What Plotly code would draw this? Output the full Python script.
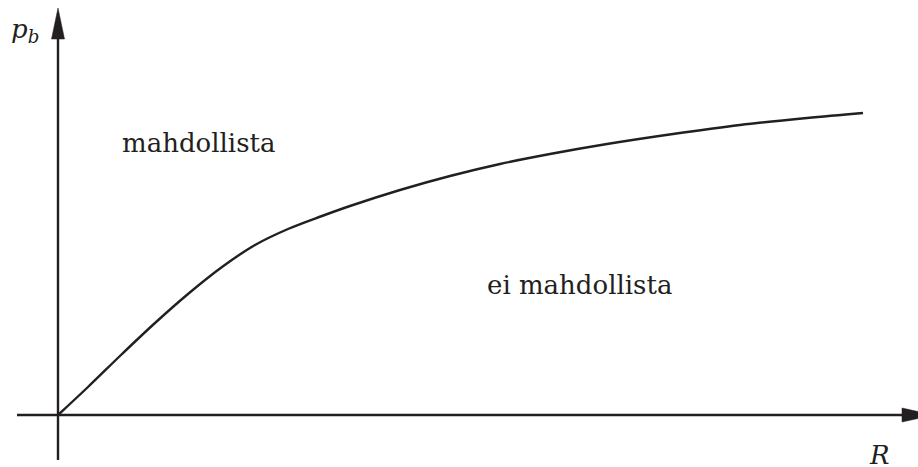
import plotly.graph_objects as go

# Curve data (R, p_b)
R_vals = [0, 30, 64, 97, 130, 164, 197, 230, 264, 292, 342, 392, 442, 492, 549, 615, 682, 749, 805]
pb_vals = [0, 28, 61, 92, 121, 148, 170, 186, 199, 209, 225, 239, 251, 261, 271, 281, 290, 297, 302]

region_labels = ["mahdollista", "ei mahdollista"]
region_pos_R = [140, 521]
region_pos_pb = [272, 130]

x_label = "<i>R</i>"
y_label = "<i>p</i><sub><i>b</i></sub>"

X_MIN, X_MAX = -58, 860
Y_MIN, Y_MAX = -52, 415

FONT = "DejaVu Serif, Liberation Serif, serif"
INK = "#231f20"

fig = go.Figure()

fig.add_trace(go.Scatter(
    x=R_vals, y=pb_vals, mode="lines",
    line=dict(color=INK, width=2.4, shape="spline", smoothing=1.0),
    hoverinfo="skip", showlegend=False,
))

shapes = []
# x axis line + arrowhead
shapes.append(dict(type="line", xref="x", yref="y", x0=-41, y0=0, x1=846, y1=0,
                   line=dict(color=INK, width=2.4)))
shapes.append(dict(type="path", xref="x", yref="y",
                   path="M 844,7 L 876,0 L 844,-7 Z",
                   fillcolor=INK, line=dict(color=INK, width=0.5)))
# y axis line + arrowhead
shapes.append(dict(type="line", xref="x", yref="y", x0=0, y0=-45, x1=0, y1=380,
                   line=dict(color=INK, width=2.4)))
shapes.append(dict(type="path", xref="x", yref="y",
                   path="M -6.5,376 L 0,407 L 6.5,376 Z",
                   fillcolor=INK, line=dict(color=INK, width=0.5)))

annotations = []
for t, xr, yr in zip(region_labels, region_pos_R, region_pos_pb):
    annotations.append(dict(x=xr, y=yr, xref="x", yref="y", text=t, showarrow=False,
                            font=dict(family=FONT, size=26, color=INK),
                            xanchor="center", yanchor="middle"))
annotations.append(dict(x=821, y=-40, xref="x", yref="y", text=x_label, showarrow=False,
                        font=dict(family=FONT, size=26, color=INK),
                        xanchor="center", yanchor="middle"))
annotations.append(dict(x=-33, y=385, xref="x", yref="y", text=y_label, showarrow=False,
                        font=dict(family=FONT, size=26, color=INK),
                        xanchor="center", yanchor="middle"))

fig.update_layout(
    width=918, height=467,
    margin=dict(l=0, r=0, t=0, b=0),
    paper_bgcolor="white", plot_bgcolor="white",
    xaxis=dict(range=[X_MIN, X_MAX], visible=False, fixedrange=True),
    yaxis=dict(range=[Y_MIN, Y_MAX], visible=False, fixedrange=True),
    shapes=shapes, annotations=annotations,
    showlegend=False,
)

fig.write_html("out.html", config={"displayModeBar": False},
               post_script="document.body.style.margin='0';")
